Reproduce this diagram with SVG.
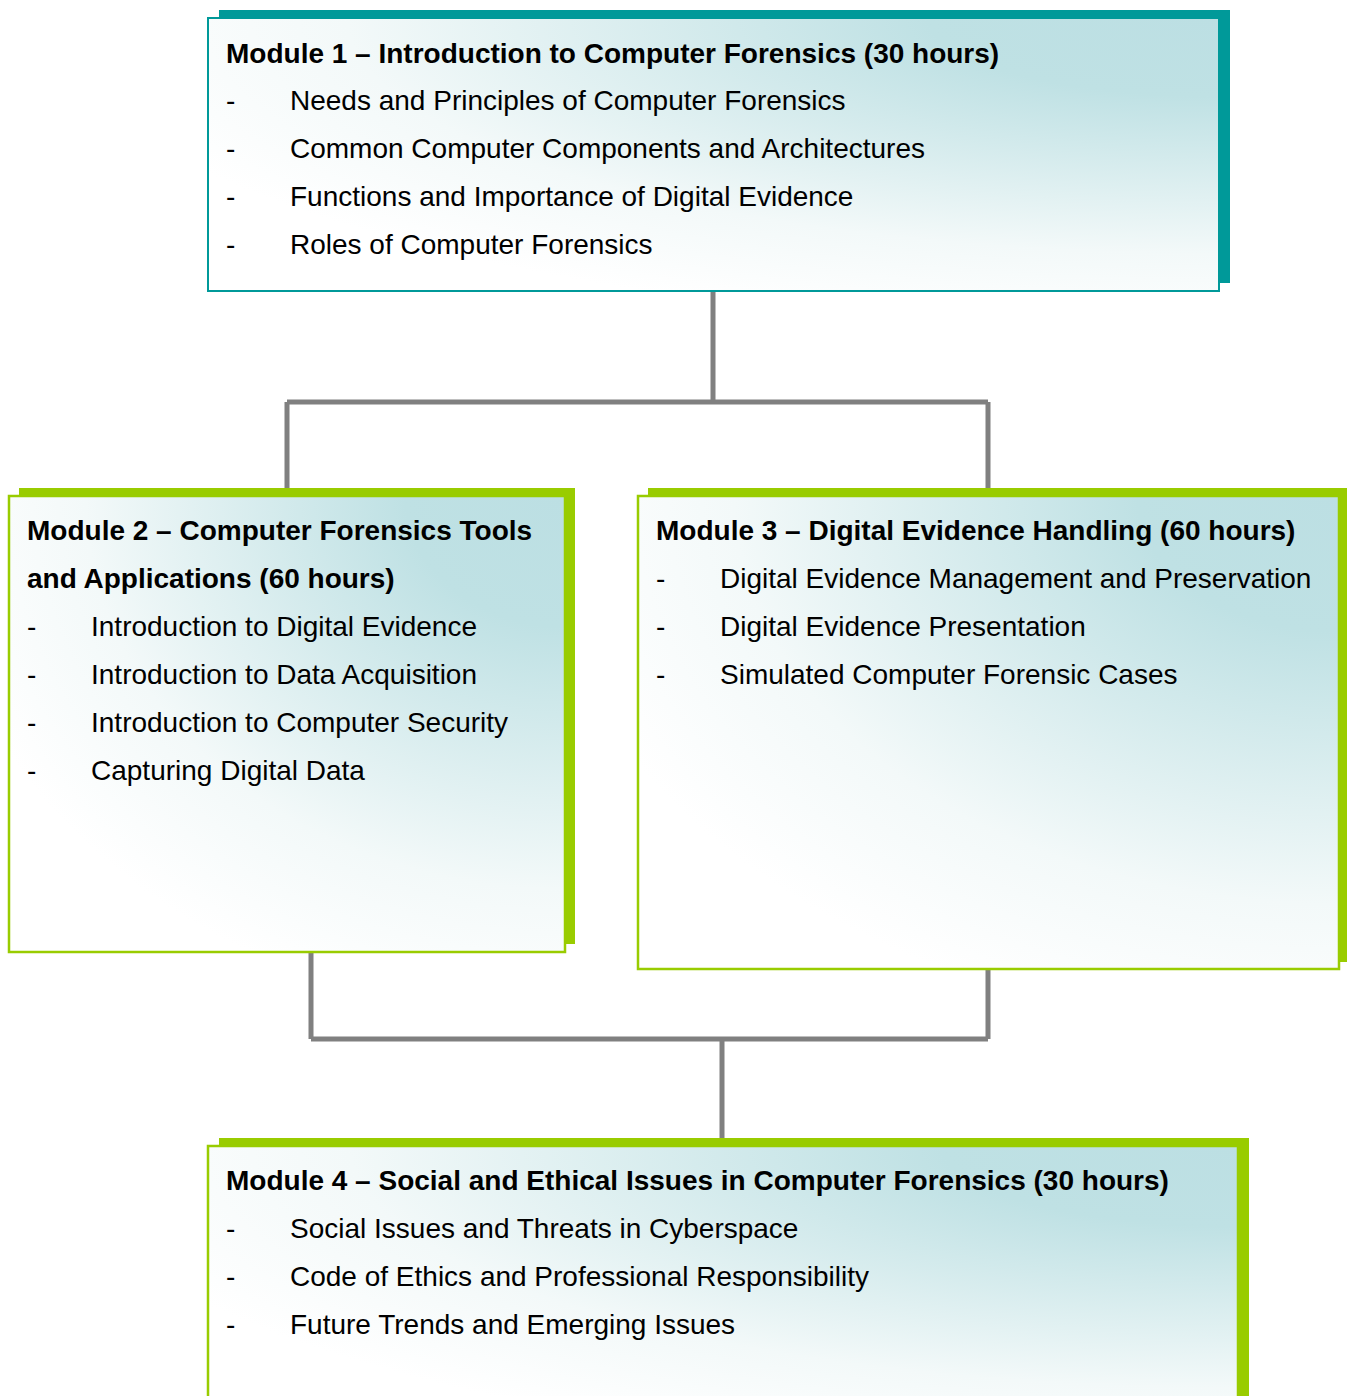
<svg xmlns="http://www.w3.org/2000/svg" width="1347" height="1396" viewBox="0 0 1347 1396">
<style>
.title{font-family:"Liberation Sans",Arial,sans-serif;font-weight:bold;font-size:28px;fill:#000}
.item{font-family:"Liberation Sans",Arial,sans-serif;font-size:28px;fill:#000}
.conn{fill:none;stroke:#808080;stroke-width:5}
.teal{fill:#009999}
.green{fill:#99cc00}
.ft{fill:url(#grad);stroke:#009999;stroke-width:2}
.fg{fill:url(#grad);stroke:#99cc00;stroke-width:2.5}
</style>
<defs>
<radialGradient id="grad" cx="1" cy="0" r="1.15" fx="1" fy="0">
<stop offset="0" stop-color="#bcdfe3"/>
<stop offset="0.25" stop-color="#bfe1e4"/>
<stop offset="0.75" stop-color="#f3f9f9"/>
<stop offset="1" stop-color="#ffffff"/>
</radialGradient>
</defs>
<g id="connectors">
<path class="conn" d="M713 291 V402 M287 402 H988 M287 402 V489 M988 402 V489"/>
<path class="conn" d="M311 952 V1039 M988 969 V1039 M311 1039 H988 M722 1039 V1139"/>
</g>
<g id="module1">
<rect class="teal" x="219" y="10" width="1011" height="273"/>
<rect class="ft" x="208" y="18" width="1011" height="273"/>
<text class="title" x="226" y="63">Module 1 – Introduction to Computer Forensics (30 hours)</text>
<text class="item" x="226" y="110">-</text><text class="item" x="290" y="110">Needs and Principles of Computer Forensics</text>
<text class="item" x="226" y="158">-</text><text class="item" x="290" y="158">Common Computer Components and Architectures</text>
<text class="item" x="226" y="206">-</text><text class="item" x="290" y="206">Functions and Importance of Digital Evidence</text>
<text class="item" x="226" y="254">-</text><text class="item" x="290" y="254">Roles of Computer Forensics</text>
</g>
<g id="module2">
<rect class="green" x="19" y="488" width="556" height="456"/>
<rect class="fg" x="9" y="496" width="556" height="456"/>
<text class="title" x="27" y="540">Module 2 – Computer Forensics Tools</text>
<text class="title" x="27" y="588">and Applications (60 hours)</text>
<text class="item" x="27" y="636">-</text><text class="item" x="91" y="636">Introduction to Digital Evidence</text>
<text class="item" x="27" y="684">-</text><text class="item" x="91" y="684">Introduction to Data Acquisition</text>
<text class="item" x="27" y="732">-</text><text class="item" x="91" y="732">Introduction to Computer Security</text>
<text class="item" x="27" y="780">-</text><text class="item" x="91" y="780">Capturing Digital Data</text>
</g>
<g id="module3">
<rect class="green" x="648" y="488" width="700" height="474"/>
<rect class="fg" x="638" y="496" width="701" height="473"/>
<text class="title" x="656" y="540">Module 3 – Digital Evidence Handling (60 hours)</text>
<text class="item" x="656" y="588">-</text><text class="item" x="720" y="588">Digital Evidence Management and Preservation</text>
<text class="item" x="656" y="636">-</text><text class="item" x="720" y="636">Digital Evidence Presentation</text>
<text class="item" x="656" y="684">-</text><text class="item" x="720" y="684">Simulated Computer Forensic Cases</text>
</g>
<g id="module4">
<rect class="green" x="219" y="1138" width="1030" height="280"/>
<rect class="fg" x="208" y="1146" width="1030" height="280"/>
<text class="title" x="226" y="1190">Module 4 – Social and Ethical Issues in Computer Forensics (30 hours)</text>
<text class="item" x="226" y="1238">-</text><text class="item" x="290" y="1238">Social Issues and Threats in Cyberspace</text>
<text class="item" x="226" y="1286">-</text><text class="item" x="290" y="1286">Code of Ethics and Professional Responsibility</text>
<text class="item" x="226" y="1334">-</text><text class="item" x="290" y="1334">Future Trends and Emerging Issues</text>
</g>
</svg>
